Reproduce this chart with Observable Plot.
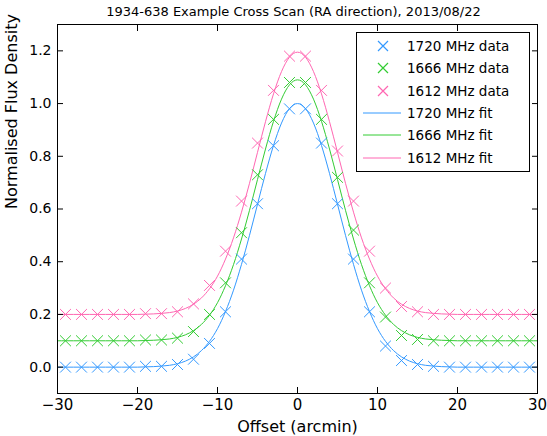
<!DOCTYPE html>
<html><head><meta charset="utf-8">
<script src="https://cdn.jsdelivr.net/npm/d3@7"></script>
<script src="https://cdn.jsdelivr.net/npm/@observablehq/plot@0.6"></script>
<style>
body{margin:0;background:#fff;font-family:"DejaVu Sans",sans-serif;}
#wrap{position:relative;width:547px;height:436px;}
#title{height:22px;line-height:24px;text-align:center;font-size:13px;padding-left:40px;}
#legend{position:absolute;left:356px;top:32px;width:172px;height:138px;border:1px solid #000;background:#fff;font-size:13.5px;}
.row{position:absolute;left:0;height:20px;line-height:20px;width:100%;}
.row span{position:absolute;left:50px;}
</style></head><body>
<div id="wrap"><div id="title">1934-638 Example Cross Scan (RA direction), 2013/08/22</div><div id="chart"></div><div id="legend"></div></div>
<script>
const offsets = [-29,-27,-25,-23,-21,-19,-17,-15,-13,-11,-9,-7,-5,-3,-1,1,3,5,7,9,11,13,15,17,19,21,23,25,27,29];
const data1720 = [0,0,0,0,0,0.003,0.003,0.01,0.03,0.09,0.21,0.41,0.62,0.84,0.98,0.98,0.85,0.62,0.41,0.21,0.08,0.025,0.01,0.003,0,0,0,0,0,0];
const data1666 = [0.1,0.1,0.1,0.1,0.1,0.103,0.103,0.11,0.135,0.2,0.32,0.51,0.73,0.94,1.08,1.08,0.94,0.72,0.52,0.32,0.19,0.12,0.105,0.1,0.1,0.1,0.1,0.1,0.1,0.1];
const data1612 = [0.2,0.2,0.2,0.2,0.2,0.203,0.203,0.21,0.24,0.31,0.44,0.63,0.85,1.05,1.18,1.18,1.05,0.82,0.63,0.44,0.3,0.23,0.21,0.2,0.2,0.2,0.2,0.2,0.2,0.2];
const fitX = d3.range(-30, 31);
const fitHalf = [1,0.981,0.926,0.841,0.735,0.618,0.5,0.39,0.292,0.211,0.146,0.098,0.063,0.039,0.023,0.013,0.007,0.004,0.002,0.001,0,0,0,0,0,0,0,0,0,0,0];
const fit1720 = fitX.map(x => fitHalf[Math.abs(x)]);
const fit1666 = fitX.map(x => 0.1 + 0.99 * fitHalf[Math.abs(x)]);
const fit1612 = fitX.map(x => 0.2 + 0.995 * fitHalf[Math.abs(x)]);

const colors = {"1720": "#3399ff", "1666": "#33cc33", "1612": "#ff66b2"};
const series = [["1720", data1720, fit1720], ["1666", data1666, fit1666], ["1612", data1612, fit1612]];

const blank = () => "";
const plot = Plot.plot({
  width: 547, height: 414,
  marginLeft: 57, marginRight: 10, marginTop: 2, marginBottom: 43,
  style: {fontSize: "14px", fontFamily: "DejaVu Sans", color: "#000", overflow: "visible"},
  x: {domain: [-30, 30], label: null},
  y: {domain: [-0.1, 1.3], label: null},
  marks: [
    ...series.map(([f, , fit]) => Plot.line(fitX.map((x, i) => ({x, y: fit[i]})), {x: "x", y: "y", stroke: colors[f], curve: "natural", strokeWidth: 1})),
    ...series.map(([f, d]) => Plot.dot(offsets.map((x, i) => ({x, y: d[i]})), {x: "x", y: "y", symbol: "times", r: 5, fill: "none", stroke: colors[f], strokeWidth: 1})),
    Plot.frame({stroke: "#000", strokeWidth: 1}),
    Plot.axisX({ticks: d3.range(-30, 31, 10), tickSize: -6, tickFormat: d => d < 0 ? "\u2212" + (-d) : d, fontSize: 15, tickPadding: 12}),
    Plot.axisX({anchor: "top", ticks: d3.range(-30, 31, 10), tickSize: -6, tickFormat: blank}),
    Plot.axisY({ticks: d3.range(0, 1.21, 0.2), tickSize: -6, tickFormat: d3.format(".1f"), fontSize: 14, tickPadding: 12}),
    Plot.axisY({anchor: "right", ticks: d3.range(0, 1.21, 0.2), tickSize: -6, tickFormat: blank}),
    Plot.text(["Offset (arcmin)"], {frameAnchor: "bottom", dy: 38, fontSize: 16}),
    Plot.text(["Normalised Flux Density"], {frameAnchor: "left", dx: -46, rotate: -90, fontSize: 16})
  ]
});
document.getElementById("chart").append(plot);

const legend = document.getElementById("legend");
const labels = [["1720 MHz data","1720",true],["1666 MHz data","1666",true],["1612 MHz data","1612",true],["1720 MHz fit","1720",false],["1666 MHz fit","1666",false],["1612 MHz fit","1612",false]];
labels.forEach(([t, f, dot], i) => {
  const row = document.createElement("div");
  row.className = "row";
  row.style.top = (3 + i * 22.3) + "px";
  const c = colors[f];
  row.innerHTML = (dot
    ? `<svg width="44" height="20" style="position:absolute;left:4px"><path d="M17,5L27,15M27,5L17,15" stroke="${c}" stroke-width="1.2"/></svg>`
    : `<svg width="44" height="20" style="position:absolute;left:4px"><line x1="2" x2="40" y1="10" y2="10" stroke="${c}" stroke-width="1"/></svg>`)
    + `<span>${t}</span>`;
  legend.append(row);
});
</script></body></html>
